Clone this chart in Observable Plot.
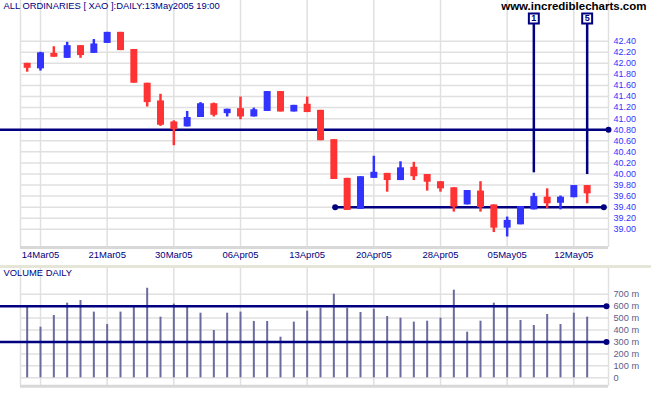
<!DOCTYPE html>
<html><head><meta charset="utf-8">
<script src="https://cdn.jsdelivr.net/npm/d3@7"></script>
<script src="https://cdn.jsdelivr.net/npm/@observablehq/plot@0.6"></script>
<style>
body{margin:0;background:#fff;}
#wrap{width:651px;height:395px;position:relative;overflow:hidden;background:#fff;}
#price{position:absolute;left:0;top:0;}
#sep{position:absolute;left:0;top:265px;width:651px;height:3px;background:#e5e5d8;}
#vol{position:absolute;left:0;top:268px;}
</style></head><body>
<div id="wrap"><div id="price"></div><div id="sep"></div><div id="vol"></div></div>
<script>
const dates = ["2005-03-11","2005-03-14","2005-03-15","2005-03-16","2005-03-17","2005-03-18",
  "2005-03-21","2005-03-22","2005-03-23","2005-03-24","2005-03-29","2005-03-30","2005-03-31","2005-04-01",
  "2005-04-04","2005-04-05","2005-04-06","2005-04-07","2005-04-08","2005-04-11","2005-04-12","2005-04-13",
  "2005-04-14","2005-04-15","2005-04-18","2005-04-19","2005-04-20","2005-04-21","2005-04-22","2005-04-26",
  "2005-04-27","2005-04-28","2005-04-29","2005-05-02","2005-05-03","2005-05-04","2005-05-05","2005-05-06",
  "2005-05-09","2005-05-10","2005-05-11","2005-05-12","2005-05-13"];
const open  = [42.00,41.90,42.18,42.09,42.32,42.18,42.36,42.56,42.25,41.64,41.32,40.94,40.85,41.02,41.27,41.09,41.18,41.03,41.13,41.49,41.12,41.26,41.15,40.62,39.92,39.36,39.92,40.01,39.88,40.12,39.99,39.86,39.75,39.44,39.69,39.44,39.02,39.08,39.35,39.58,39.47,39.57,39.79];
const high  = [42.00,42.20,42.30,42.38,42.32,42.43,42.56,42.56,42.25,41.64,41.44,40.96,41.13,41.29,41.28,41.17,41.39,41.19,41.49,41.49,41.24,41.39,41.15,40.62,39.92,39.95,40.32,40.01,40.22,40.21,39.99,39.86,39.75,39.70,39.86,39.44,39.22,39.41,39.65,39.73,39.60,39.79,39.79];
const low   = [41.84,41.86,42.11,42.09,42.09,42.18,42.36,42.23,41.64,41.21,40.86,40.51,40.85,41.02,41.03,41.03,40.98,41.03,41.13,41.12,41.12,41.11,40.60,39.90,39.34,39.36,39.92,39.67,39.88,39.88,39.69,39.67,39.31,39.44,39.31,38.94,38.86,39.08,39.35,39.37,39.35,39.57,39.46];
const close = [41.91,42.19,42.11,42.32,42.14,42.35,42.56,42.23,41.64,41.29,40.88,40.80,41.02,41.27,41.06,41.17,41.03,41.16,41.49,41.12,41.24,41.11,40.60,39.90,39.34,39.95,40.03,39.88,40.11,39.95,39.85,39.73,39.40,39.70,39.39,39.02,39.16,39.41,39.59,39.46,39.58,39.79,39.64];
const volumeM = [591,424,522,625,647,550,446,550,597,750,508,617,591,541,396,541,550,472,472,340,466,558,583,700,583,547,575,513,499,466,474,499,734,382,474,625,597,480,438,530,446,541,508];

const tickDates  = ["2005-03-14","2005-03-21","2005-03-30","2005-04-06","2005-04-13","2005-04-20","2005-04-28","2005-05-05","2005-05-12"];
const tickLabels = ["14Mar05","21Mar05","30Mar05","06Apr05","13Apr05","20Apr05","28Apr05","05May05","12May05"];
const priceTicks = [39.00,39.20,39.40,39.60,39.80,40.00,40.20,40.40,40.60,40.80,41.00,41.20,41.40,41.60,41.80,42.00,42.20,42.40];
const volTicks = [0,100,200,300,400,500,600,700];

const titleText = "ALL ORDINARIES [ XAO ]:DAILY:13May2005 19:00";
const siteText = "www.incrediblecharts.com";
const volTitle = "VOLUME DAILY";

// horizontal support/resistance lines (price level, start/end in trading-day index units)
const priceLevels = [{level:40.80, x1:-3, x2:42.6, dotStart:false}, {level:39.40, x1:22.1, x2:42.25, dotStart:true}];
const volLevels = [{level:600, x1:-3, x2:42.45}, {level:300, x1:-3, x2:42.45}];
// numbered vertical markers
const markers = [{date:"2005-05-09", label:"1", top:42.81, bottom:40.02}, {date:"2005-05-13", label:"5", top:42.81, bottom:39.99}];

const RED="#ff3333", BLUE="#3333ff", NAVY="#000080", GRID="#e0e0e0", VOLC="#6a6aa0", FONT="'Liberation Sans', Arial, sans-serif";
const xDomain=[-1.5, 42.6];
const idxOf = d => dates.indexOf(d) - 1; // 14Mar05 = index 0
const tickIdx = tickDates.map(idxOf);
const candles = dates.map((d,k)=>({i:k-1, o:open[k], h:high[k], l:low[k], c:close[k]}));
const up = candles.filter(d=>d.c>=d.o), down = candles.filter(d=>d.c<d.o);
const vols = dates.map((d,k)=>({i:k-1, v:volumeM[k]}));
const mk = markers.map(m=>({...m, i:idxOf(m.date)}));
const pDots = priceLevels.flatMap(l=> l.dotStart ? [{x:l.x1,y:l.level},{x:l.x2,y:l.level}] : [{x:l.x2,y:l.level}]);
const vDots = volLevels.map(l=>({x:l.x2,y:l.level}));
const pY=[38.67,43.136], vY=[-70.4,915.4];

const price = Plot.plot({
  width:651, height:265, marginLeft:20, marginRight:43, marginTop:0, marginBottom:18,
  x:{type:"linear", domain:xDomain, label:null}, y:{domain:pY, label:null},
  style:{fontFamily:FONT, background:"transparent", overflow:"visible"},
  marks:[
    Plot.gridX(tickIdx,{stroke:GRID,strokeOpacity:1,strokeWidth:1.5}),
    Plot.gridY(priceTicks,{stroke:GRID,strokeOpacity:1,strokeWidth:1.5}),
    Plot.ruleX([xDomain[0], xDomain[1]],{stroke:GRID,strokeWidth:1.5}),
    Plot.ruleY([pY[0]],{stroke:"#d8d8d8",strokeWidth:3}),
    Plot.axisY(priceTicks,{anchor:"right",tickSize:0,tickPadding:5,tickFormat:d=>d.toFixed(2),color:BLUE,fontSize:9,label:null}),
    Plot.axisX(tickIdx,{anchor:"bottom",tickSize:0,tickPadding:4,tickFormat:d=>tickLabels[tickIdx.indexOf(d)],color:NAVY,fontSize:9.5,label:null}),
    Plot.text([titleText],{text:d=>d,frameAnchor:"top-left",dx:-17,dy:2,lineAnchor:"top",textAnchor:"start",fill:NAVY,fontSize:9.4}),
    Plot.text([siteText],{text:d=>d,frameAnchor:"top-right",dx:38,dy:1,lineAnchor:"top",textAnchor:"end",fill:"#000",fontSize:11.5,fontWeight:"bold"}),
    Plot.ruleY(priceLevels,{y:"level",x1:"x1",x2:"x2",stroke:NAVY,strokeWidth:2.5}),
    Plot.dot(pDots,{x:"x",y:"y",r:3,fill:NAVY}),
    Plot.ruleX(mk,{x:"i",y1:"bottom",y2:"top",stroke:NAVY,strokeWidth:2.5}),
    Plot.dot(mk,{x:"i",y:"top",symbol:"square",r:5.6,fill:"white",stroke:NAVY,strokeWidth:2}),
    Plot.text(mk,{x:"i",y:"top",text:"label",fill:NAVY,fontSize:9,fontWeight:"bold"}),
    Plot.ruleX(up,{x:"i",y1:"l",y2:"h",stroke:BLUE,strokeWidth:2.5}),
    Plot.ruleX(down,{x:"i",y1:"l",y2:"h",stroke:RED,strokeWidth:2.5}),
    Plot.ruleX(up,{x:"i",y1:"o",y2:"c",stroke:BLUE,strokeWidth:7}),
    Plot.ruleX(down,{x:"i",y1:"o",y2:"c",stroke:RED,strokeWidth:7})
  ]
});
document.getElementById("price").appendChild(price);

const vol = Plot.plot({
  width:651, height:127, marginLeft:20, marginRight:43, marginTop:0, marginBottom:9.3,
  x:{type:"linear", domain:xDomain, label:null, axis:null}, y:{domain:vY, label:null},
  style:{fontFamily:FONT, background:"transparent", overflow:"visible"},
  marks:[
    Plot.gridX(tickIdx,{stroke:GRID,strokeOpacity:1,strokeWidth:1.5}),
    Plot.gridY(volTicks,{stroke:GRID,strokeOpacity:1,strokeWidth:1.5}),
    Plot.ruleX([xDomain[0], xDomain[1]],{stroke:GRID,strokeWidth:1.5}),
    Plot.ruleY([vY[0]],{stroke:"#d8d8d8",strokeWidth:3}),
    Plot.axisY(volTicks,{anchor:"right",tickSize:0,tickPadding:5,tickFormat:d=>d===0?"0":d+" m",color:"#5c5c8a",fontSize:9.2,label:null}),
    Plot.text([volTitle],{text:d=>d,frameAnchor:"top-left",dx:-17,dy:1,lineAnchor:"top",textAnchor:"start",fill:NAVY,fontSize:9.4}),
    Plot.ruleX(vols,{x:"i",y1:0,y2:"v",stroke:VOLC,strokeWidth:2}),
    Plot.ruleY(volLevels,{y:"level",x1:"x1",x2:"x2",stroke:NAVY,strokeWidth:2.5}),
    Plot.dot(vDots,{x:"x",y:"y",r:3,fill:NAVY})
  ]
});
document.getElementById("vol").appendChild(vol);
</script>
</body></html>
